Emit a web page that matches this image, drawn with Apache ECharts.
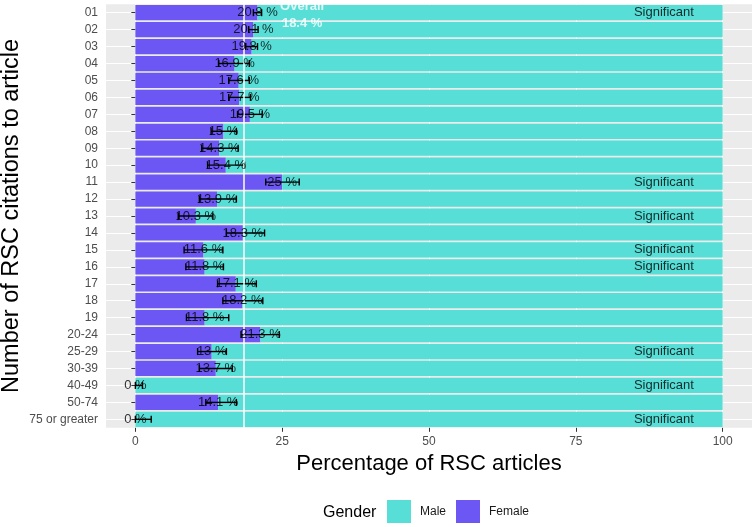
<!DOCTYPE html>
<html>
<head>
<meta charset="utf-8">
<script src="https://cdn.jsdelivr.net/npm/echarts@6/dist/echarts.min.js"></script>
<style>html,body{margin:0;padding:0;background:#fff;}#c{width:756px;height:527px;}</style>
</head>
<body>
<div id="c"></div>
<script>
var categories = ['01','02','03','04','05','06','07','08','09','10','11','12','13','14','15','16','17','18','19','20-24','25-29','30-39','40-49','50-74','75 or greater'];
var femalePct = [20.8,20.1,19.8,16.9,17.6,17.7,19.5,15,14.3,15.4,25,13.9,10.3,18.3,11.6,11.8,17.1,18.2,11.8,21.3,13,13.7,0,14.1,0];
var errLow  = [20.1,19.3,18.8,14.2,15.9,15.9,17.4,12.9,11.3,12.3,22.2,10.9,7.3,15.5,8.3,8.6,14.0,14.9,8.7,18.0,10.6,10.9,0,12.0,0];
var errHigh = [21.5,20.9,20.8,19.4,19.4,19.6,21.6,17.2,17.5,18.6,27.9,17.2,13.2,22.0,14.9,15.0,20.6,21.7,15.9,24.5,15.5,16.5,1.2,17.2,2.7];
var significantRows = ['01','11','13','15','16','25-29','40-49','75 or greater'];
var overallPct = 18.4;
var xTicks = [0,25,50,75,100];

var malePct = femalePct.map(function(f){ return 100 - f; });
var FONT = "'Liberation Sans', Arial, sans-serif";
var TEAL = '#57DED6', PURPLE = '#6C57F5';

var chart = echarts.init(document.getElementById('c'));
chart.setOption({
  animation: false,
  textStyle: { fontFamily: FONT },
  title: { text: 'Gender', left: 323, top: 505, padding: 0, textStyle: { fontSize: 16, fontWeight: 'normal', color: '#000', fontFamily: FONT } },
  legend: {
    left: 387, top: 500, padding: 0, itemWidth: 24, itemHeight: 23, itemGap: 10, icon: 'rect',
    data: ['Male','Female'],
    textStyle: { fontSize: 12, color: '#1a1a1a', fontFamily: FONT, padding: [0,0,0,4] }
  },
  grid: { left: 106, right: 4, top: 4.2, height: 423.6, show: true, backgroundColor: '#EBEBEB', borderWidth: 0, containLabel: false, outerBoundsMode: 'none' },
  xAxis: {
    type: 'value', min: -5, max: 105,
    name: 'Percentage of RSC articles', nameLocation: 'middle', nameGap: 25, nameMoveOverlap: false,
    nameTextStyle: { fontSize: 22, color: '#000', fontFamily: FONT },
    axisLine: { show: false },
    axisTick: { show: true, length: 4, lineStyle: { color: '#333' }, customValues: xTicks },
    axisLabel: { customValues: xTicks, margin: 8, fontSize: 12, color: '#4d4d4d', fontFamily: FONT },
    splitLine: { show: true, lineStyle: { color: '#fff', width: 1 } }
  },
  yAxis: {
    type: 'category', data: categories, inverse: true,
    name: 'Number of RSC citations to article', nameLocation: 'middle', nameGap: 82, nameMoveOverlap: false,
    nameTextStyle: { fontSize: 23.5, color: '#000', fontFamily: FONT },
    axisLine: { show: false },
    axisTick: { show: true, alignWithLabel: true, length: 4, lineStyle: { color: '#333' } },
    axisLabel: { margin: 8, fontSize: 12, color: '#4d4d4d', fontFamily: FONT, interval: 0 },
    splitLine: { show: true, alignWithLabel: true, interval: 0, lineStyle: { color: '#fff', width: 1 } }
  },
  series: [
    { name: 'Female', type: 'bar', stack: 'g', data: femalePct, barWidth: '90%', itemStyle: { color: PURPLE }, z: 2 },
    { name: 'Male', type: 'bar', stack: 'g', data: malePct, barWidth: '90%', itemStyle: { color: TEAL }, z: 2,
      markLine: { silent: true, symbol: 'none', label: { show: false },
        lineStyle: { color: '#fff', width: 1.5, type: 'solid' }, data: [{ xAxis: overallPct }] } },
    { name: 'err', type: 'custom', z: 4,
      data: categories.map(function(c,i){ return [errLow[i], errHigh[i], i]; }),
      renderItem: function(params, api){
        var a = api.coord([api.value(0), api.value(2)]);
        var b = api.coord([api.value(1), api.value(2)]);
        var h = 3.5;
        var st = { stroke: '#000', lineWidth: 1.4 };
        return { type: 'group', children: [
          { type: 'line', shape: { x1: a[0], y1: a[1], x2: b[0], y2: b[1] }, style: st },
          { type: 'line', shape: { x1: a[0], y1: a[1]-h, x2: a[0], y2: a[1]+h }, style: st },
          { type: 'line', shape: { x1: b[0], y1: b[1]-h, x2: b[0], y2: b[1]+h }, style: st }
        ]};
      }
    },
    { name: 'pctLabel', type: 'scatter', symbolSize: 0, z: 5, silent: true,
      data: categories.map(function(c,i){ return [femalePct[i], c]; }),
      label: { show: true, position: 'inside', fontSize: 13, color: '#000', fontFamily: FONT,
        formatter: function(p){ return p.value[0] + ' %'; } } },
    { name: 'sig', type: 'scatter', symbolSize: 0, z: 5, silent: true,
      data: significantRows.map(function(c){ return [90, c]; }),
      label: { show: true, position: 'inside', fontSize: 13, color: '#000', fontFamily: FONT, formatter: 'Significant' } },
    { name: 'overall', type: 'scatter', symbolSize: 0, z: 5, silent: true,
      data: [[overallPct + 10, categories[0]]],
      label: { show: true, position: 'inside', offset: [0, 2], fontSize: 13, fontWeight: 'bold', lineHeight: 17.5, color: '#fff', fontFamily: FONT,
        formatter: function(){ return 'Overall\n' + overallPct + ' %'; } } }
  ]
});
</script>
</body>
</html>
